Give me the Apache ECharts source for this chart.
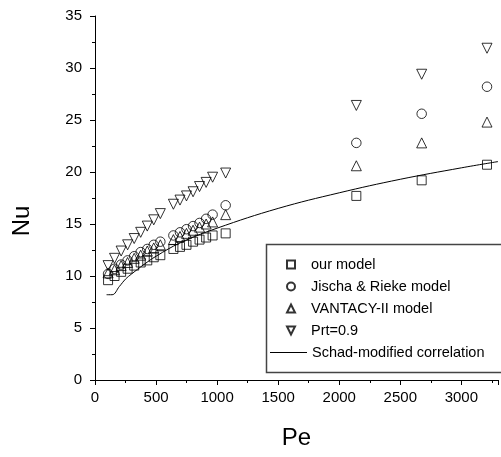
<!DOCTYPE html>
<html>
<head>
<meta charset="utf-8">
<script src="https://cdn.jsdelivr.net/npm/echarts@6/dist/echarts.min.js"></script>
<style>html,body{margin:0;padding:0;background:#fff;}#c{width:501px;height:457px;}</style>
</head>
<body>
<div id="c"></div>
<script>
// ---- data ----
const pe = [107,160,214,267,321,374,428,481,535,642,696,749,803,856,910,963,1070,2140,2675,3210];
const ourModel = [9.6,10.0,10.4,10.7,11.0,11.3,11.5,11.8,12.0,12.6,12.8,13.0,13.3,13.5,13.7,13.9,14.1,17.7,19.2,20.7];
const jischa   = [10.2,10.7,11.1,11.5,11.9,12.3,12.6,13.0,13.3,13.9,14.2,14.5,14.8,15.1,15.5,15.9,16.8,22.8,25.6,28.2];
const vantacy  = [10.3,10.6,11.0,11.3,11.7,12.0,12.4,12.7,13.0,13.5,13.8,14.1,14.4,14.7,15.0,15.2,15.9,20.6,22.8,24.8];
const prt09    = [11.0,11.7,12.4,13.0,13.6,14.2,14.8,15.4,16.0,16.9,17.3,17.7,18.1,18.6,19.0,19.5,19.9,26.4,29.4,31.9];
const peLine = [95,140,200,250,300,400,500,700,1000,1500,2000,2500,3000,3300];
const nuLine = [8.2,8.2,9.0,9.7,10.2,11.1,11.9,13.2,14.6,16.5,18.0,19.3,20.4,21.0];
const seriesNames = ['our model','Jischa & Rieke model','VANTACY-II model','Prt=0.9','Schad-modified correlation'];
const xTicks = [0,500,1000,1500,2000,2500,3000];

const pairs = (xs, ys) => xs.map((x, i) => [x, ys[i]]);
const hollow = {color: 'rgba(0,0,0,0)', borderColor: '#000', borderWidth: 1};
const FONT = 'Liberation Sans, Arial, sans-serif';
const legendText = {fontFamily: FONT, fontSize: 14.5, color: '#000'};

const chart = echarts.init(document.getElementById('c'), null, {renderer: 'canvas'});
chart.setOption({
  animation: false,
  backgroundColor: '#fff',
  grid: {left: 95, right: -2, top: 16, bottom: 77, containLabel: false},
  xAxis: {
    type: 'value', min: 0, max: 3300, interval: 500,
    name: 'Pe', nameLocation: 'middle', nameGap: 46,
    nameTextStyle: {fontFamily: FONT, fontSize: 24, color: '#000'},
    axisLine: {lineStyle: {color: '#000', width: 1}},
    axisTick: {show: true, length: 5, lineStyle: {color: '#000'}},
    minorTick: {show: true, splitNumber: 2, length: 3, lineStyle: {color: '#000'}},
    splitLine: {show: false},
    axisLabel: {fontFamily: FONT, fontSize: 15, color: '#000', margin: 10,
      formatter: v => xTicks.indexOf(v) >= 0 ? String(v) : ''}
  },
  yAxis: {
    type: 'value', min: 0, max: 35, interval: 5,
    axisLine: {show: true, lineStyle: {color: '#000', width: 1}},
    axisTick: {show: true, length: 5, lineStyle: {color: '#000'}},
    minorTick: {show: true, splitNumber: 2, length: 3, lineStyle: {color: '#000'}},
    splitLine: {show: false},
    axisLabel: {fontFamily: FONT, fontSize: 15, color: '#000', margin: 13}
  },
  legend: [
    {
      orient: 'vertical', left: 281, top: 252, itemGap: 7,
      itemWidth: 8, itemHeight: 8,
      data: [
        seriesNames[0], seriesNames[1], seriesNames[2],
        {name: seriesNames[3], icon: 'path://M0,0L10,0L5,10Z'}
      ],
      textStyle: Object.assign({padding: [0, 0, 0, 11]}, legendText)
    },
    {
      orient: 'vertical', left: 265, top: 340,
      itemWidth: 37, itemHeight: 1,
      data: [{name: seriesNames[4], icon: 'rect'}],
      itemStyle: {color: '#000', borderWidth: 0},
      textStyle: legendText
    }
  ],
  graphic: [
    {type: 'rect', z: -1, shape: {x: 266.5, y: 244.5, width: 260, height: 128},
     style: {fill: '#fff', stroke: '#444', lineWidth: 1.5}},
    {type: 'text', x: 22, y: 221, rotation: Math.PI / 2,
     style: {text: 'Nu', fontFamily: FONT, fontSize: 24, fill: '#000', align: 'center', verticalAlign: 'middle'}}
  ],
  series: [
    {name: seriesNames[0], type: 'scatter', symbol: 'rect', symbolSize: 9, itemStyle: hollow, data: pairs(pe, ourModel)},
    {name: seriesNames[1], type: 'scatter', symbol: 'circle', symbolSize: 9.5, itemStyle: hollow, data: pairs(pe, jischa)},
    {name: seriesNames[2], type: 'scatter', symbol: 'triangle', symbolSize: 10, itemStyle: hollow, data: pairs(pe, vantacy)},
    {name: seriesNames[3], type: 'scatter', symbol: 'triangle', symbolRotate: 180, symbolSize: 10, itemStyle: hollow, data: pairs(pe, prt09)},
    {name: seriesNames[4], type: 'line', smooth: 0.4, symbol: 'none', showSymbol: false,
     lineStyle: {color: '#000', width: 1}, itemStyle: {color: '#000'}, data: pairs(peLine, nuLine)}
  ]
});
</script>
</body>
</html>
